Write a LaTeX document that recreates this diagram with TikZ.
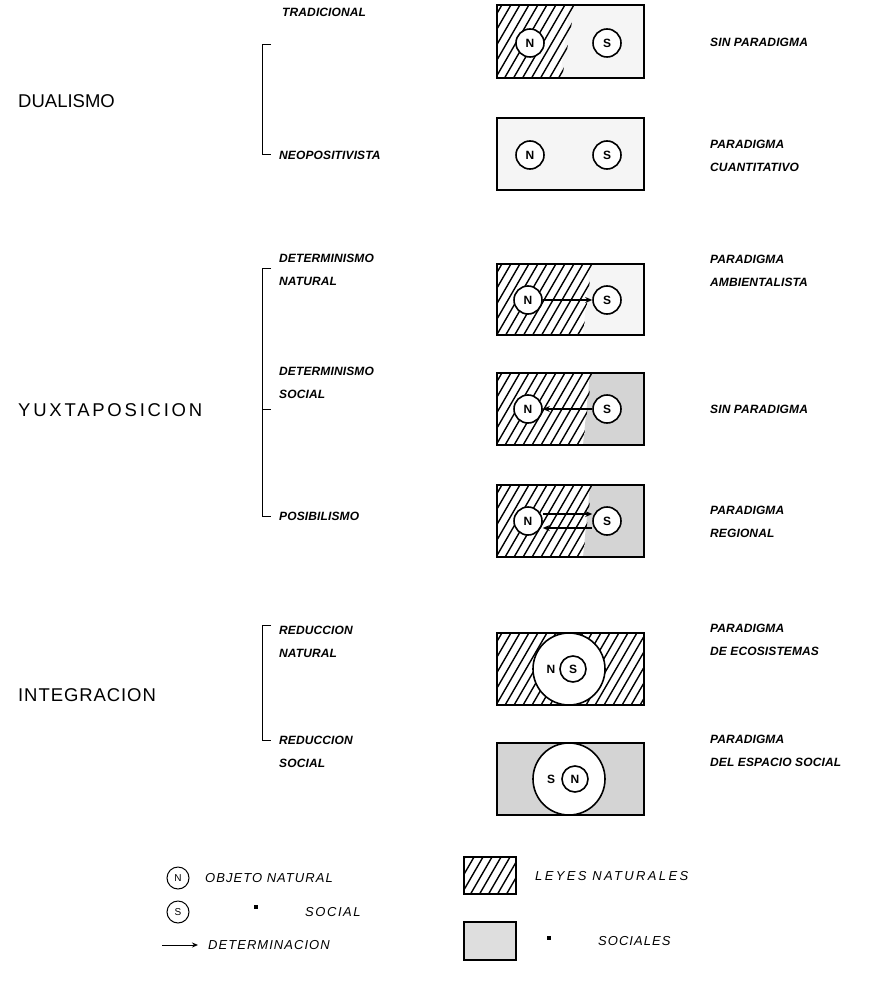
\documentclass[tikz,border=0pt]{standalone}
\usepackage{fontspec}
\setmainfont{Liberation Sans}
\usetikzlibrary{arrows.meta}
\tikzset{
 lab/.style={font=\fontsize{12}{23.5}\selectfont\itshape\bfseries\addfontfeatures{LetterSpace=1}, align=left, anchor=west, inner sep=0pt},
 leg/.style={font=\fontsize{13}{14}\selectfont\itshape\addfontfeatures{LetterSpace=8}, anchor=west, inner sep=0pt},
 big/.style={font=\fontsize{18.5}{20}\selectfont, anchor=west, inner sep=0pt},
 obj/.style={circle, draw, line width=1.6pt, fill=white, minimum size=28pt, inner sep=0pt, font=\fontsize{12}{12}\selectfont\bfseries},
 lobj/.style={circle, draw, line width=1pt, fill=white, minimum size=22pt, inner sep=0pt, font=\fontsize{10}{10}\selectfont},
 bigc/.style={circle, draw, line width=1.6pt, fill=white, minimum size=72pt, inner sep=0pt},
 frame/.style={draw, line width=1.9pt},
 hatchline/.style={line width=1.4pt},
 stip/.style={fill=black!17},
 faint/.style={fill=black!4},
 det/.style={-{Stealth[length=7pt,width=6pt]}, line width=1.8pt},
 brk/.style={line width=1pt},
 ditto/.style={fill=black, minimum width=3.5pt, minimum height=3.5pt, inner sep=0pt},
}
% hatch a region: #1 = clip path, #2 = centre y
\newcommand{\myhatch}[2]{%
 \begin{scope}\clip #1;
 \foreach \a in {380,389,...,700} {\draw[hatchline] (\a,#2+50) -- (\a+58,#2-50);}
 \end{scope}}
\begin{document}
\begin{tikzpicture}[x=1pt,y=-1pt]
\useasboundingbox (0,0) rectangle (873,992);

% ---------- big labels
\node[big] (dual) at (18,101) {DUALISMO};
\node[big, font=\fontsize{18.5}{20}\selectfont\addfontfeatures{LetterSpace=15}] (yuxt) at (18,410) {YUXTAPOSICION};
\node[big, font=\fontsize{18.5}{20}\selectfont\addfontfeatures{LetterSpace=5}] (integ) at (18,695) {INTEGRACION};

% ---------- brackets
\draw[brk] (271,45) -- (262,45) -- (262,155) -- (271,155);
\draw[brk] (271,268) -- (262,268) -- (262,516) -- (271,516);
\draw[brk] (262,409) -- (271,409);
\draw[brk] (271,625) -- (262,625) -- (262,740) -- (271,740);

% ---------- left labels
\node[lab] (l1) at (282,12) {TRADICIONAL};
\node[lab] (l2) at (279,155) {NEOPOSITIVISTA};
\node[lab] (l3) at (279,270) {DETERMINISMO\\NATURAL};
\node[lab] (l4) at (279,383) {DETERMINISMO\\SOCIAL};
\node[lab] (l5) at (279,516) {POSIBILISMO};
\node[lab] (l6) at (279,642) {REDUCCION\\NATURAL};
\node[lab] (l7) at (279,752) {REDUCCION\\SOCIAL};

% ---------- right labels
\node[lab] (r1) at (710,42) {SIN PARADIGMA};
\node[lab] (r2) at (710,156) {PARADIGMA\\CUANTITATIVO};
\node[lab] (r3) at (710,271) {PARADIGMA\\AMBIENTALISTA};
\node[lab] (r4) at (710,409) {SIN PARADIGMA};
\node[lab] (r5) at (710,522) {PARADIGMA\\REGIONAL};
\node[lab] (r6) at (710,640) {PARADIGMA\\DE ECOSISTEMAS};
\node[lab] (r7) at (710,751) {PARADIGMA\\DEL ESPACIO SOCIAL};

% ---------- box 1 : tradicional
\fill[faint] (570,5) -- (644,5) -- (644,78) -- (560,78) -- cycle;
\myhatch{(497,5) -- (575,5) -- (562,78) -- (497,78) -- cycle}{41}
\draw[frame] (497,5) rectangle (644,78);
\node[obj] (n1) at (530,43) {N};
\node[obj] (s1) at (607,43) {S};

% ---------- box 2 : neopositivista
\fill[faint] (497,118) rectangle (644,190);
\draw[frame] (497,118) rectangle (644,190);
\node[obj] (n2) at (530,155) {N};
\node[obj] (s2) at (607,155) {S};

% ---------- box 3 : determinismo natural
\fill[faint] (590,264) -- (644,264) -- (644,335) -- (583,335) -- cycle;
\myhatch{(497,264) -- (592,264) -- (583,335) -- (497,335) -- cycle}{300}
\draw[frame] (497,264) rectangle (644,335);
\node[obj] (n3) at (528,300) {N};
\node[obj] (s3) at (607,300) {S};
\draw[det] (n3) -- (s3);

% ---------- box 4 : determinismo social
\fill[stip] (590,373) -- (644,373) -- (644,445) -- (583,445) -- cycle;
\myhatch{(497,373) -- (592,373) -- (583,445) -- (497,445) -- cycle}{409}
\draw[frame] (497,373) rectangle (644,445);
\node[obj] (n4) at (528,409) {N};
\node[obj] (s4) at (607,409) {S};
\draw[det] (s4) -- (n4);

% ---------- box 5 : posibilismo
\fill[stip] (590,485) -- (644,485) -- (644,557) -- (583,557) -- cycle;
\myhatch{(497,485) -- (592,485) -- (583,557) -- (497,557) -- cycle}{521}
\draw[frame] (497,485) rectangle (644,557);
\node[obj] (n5) at (528,521) {N};
\node[obj] (s5) at (607,521) {S};
\draw[det] ([yshift=7pt]n5.east) -- ([yshift=7pt]s5.west);
\draw[det] ([yshift=-7pt]s5.west) -- ([yshift=-7pt]n5.east);

% ---------- box 6 : reduccion natural
\myhatch{(497,633) rectangle (644,705)}{669}
\draw[frame] (497,633) rectangle (644,705);
\node[bigc] (c6) at (569,669) {};
\node[font=\fontsize{12}{12}\selectfont\bfseries, inner sep=0pt] (n6) at (551,669) {N};
\node[obj, minimum size=26pt] (s6) at (573,669) {S};

% ---------- box 7 : reduccion social
\fill[stip] (497,743) rectangle (644,815);
\draw[frame] (497,743) rectangle (644,815);
\node[bigc] (c7) at (569,779) {};
\node[font=\fontsize{12}{12}\selectfont\bfseries, inner sep=0pt] (s7) at (551,779) {S};
\node[obj, minimum size=26pt] (n7) at (575,779) {N};

% ---------- legend
\node[lobj] (ln) at (178,878) {N};
\node[leg] (lnt) at (205,878) {OBJETO NATURAL};
\node[lobj] (ls) at (178,912) {S};
\node[ditto] (lq1) at (256,907) {};
\node[leg, font=\fontsize{13}{14}\selectfont\itshape\addfontfeatures{LetterSpace=12}] (lst) at (305,912) {SOCIAL};
\coordinate (la) at (162,945);
\node[leg] (ldt) at (208,945) {DETERMINACION};
\draw[-{Stealth[length=6pt,width=5pt]}, line width=1pt] (la) -- ([xshift=-10pt]ldt.west);

\myhatch{(464,857) rectangle (516,894)}{876}
\draw[line width=1.4pt] (464,857) rectangle (516,894);
\node[leg, font=\fontsize{13}{14}\selectfont\itshape\addfontfeatures{LetterSpace=18}] (lh) at (535,876) {LEYES NATURALES};
\fill[black!13] (464,922) rectangle (516,960);
\draw[line width=1.4pt] (464,922) rectangle (516,960);
\node[ditto] (lq2) at (549,938) {};
\node[leg] (lss) at (598,941) {SOCIALES};
\end{tikzpicture}
\end{document}
